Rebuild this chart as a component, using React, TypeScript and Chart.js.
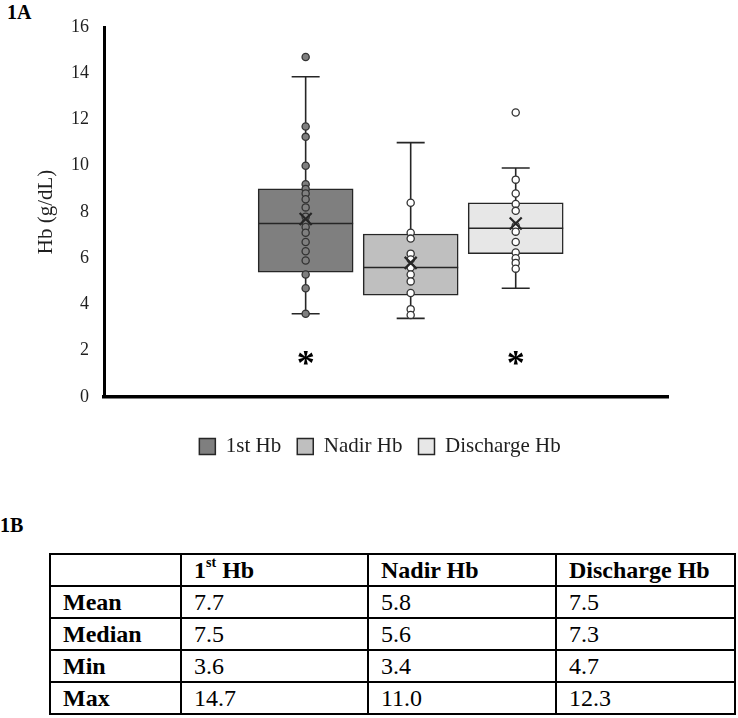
import React, { useEffect, useRef } from 'react';
import { Chart, registerables } from 'chart.js';

Chart.register(...registerables);

// ---------- data ----------
const categories = ['1st Hb', 'Nadir Hb', 'Discharge Hb'];
const q1 = [5.4, 4.4, 6.2];
const q3 = [9.0, 7.05, 8.4];
const medians = [7.5, 5.6, 7.3];
const means = [7.7, 5.8, 7.5];
const mins = [3.6, 3.4, 4.7];
const maxs = [14.7, 11.0, 12.3];
const whiskerLow = [3.6, 3.4, 4.7];
const whiskerHigh = [13.85, 11.0, 9.9];
const points1st = [14.7, 11.7, 11.25, 10.0, 9.2, 9.0, 8.8, 8.55, 8.2, 7.8, 7.55, 7.35, 7.1, 6.7, 6.3, 5.9, 5.3, 4.7, 3.6];
const pointsNadir = [8.4, 7.1, 6.85, 6.2, 5.95, 5.6, 5.3, 5.0, 4.5, 3.8, 3.55];
const pointsDischarge = [12.3, 9.4, 8.8, 8.35, 8.05, 7.4, 7.15, 6.7, 6.25, 6.0, 5.8, 5.55];
const pointSets = [points1st, pointsNadir, pointsDischarge];
const significance = ['*', '', '*'];
const asteriskLevel = 1.7;
const yMin = 0;
const yMax = 16;
const yStep = 2;
const tableRowLabels = ['Mean', 'Median', 'Min', 'Max'];
const tableRowValues = [means, medians, mins, maxs];

// ---------- styles ----------
const FONT = "'Liberation Serif', 'Times New Roman', serif";
const TEXT = '#1f1f1f';
const boxFills = ['#7f7f7f', '#bfbfbf', '#e7e7e7'];
const pointFills = ['#7f7f7f', '#ffffff', '#ffffff'];
const EDGE = '#262626';

const boxPlugin = {
  id: 'boxExtras',
  afterLayout(chart: any) {
    const lg = chart.legend;
    if (lg) {
      lg.left -= 6;
      lg.right -= 6;
    }
  },
  afterDatasetDraw(chart: any, args: any) {
    const ds = chart.data.datasets[args.index];
    if (ds.type !== 'bar') return;
    const i = ds.boxIndex;
    const el = args.meta.data[0];
    if (!el) return;
    const y = chart.scales.y;
    const ctx = chart.ctx;
    const x = el.x;
    const w = el.width;
    const cap = 14;
    ctx.save();
    ctx.strokeStyle = EDGE;
    ctx.lineWidth = 1.6;
    ctx.beginPath();
    ctx.moveTo(x - w / 2, y.getPixelForValue(medians[i]));
    ctx.lineTo(x + w / 2, y.getPixelForValue(medians[i]));
    ctx.moveTo(x, y.getPixelForValue(q3[i]));
    ctx.lineTo(x, y.getPixelForValue(whiskerHigh[i]));
    ctx.moveTo(x - cap, y.getPixelForValue(whiskerHigh[i]));
    ctx.lineTo(x + cap, y.getPixelForValue(whiskerHigh[i]));
    ctx.moveTo(x, y.getPixelForValue(q1[i]));
    ctx.lineTo(x, y.getPixelForValue(whiskerLow[i]));
    ctx.moveTo(x - cap, y.getPixelForValue(whiskerLow[i]));
    ctx.lineTo(x + cap, y.getPixelForValue(whiskerLow[i]));
    ctx.stroke();
    ctx.restore();
  },
  afterDatasetsDraw(chart: any) {
    const ctx = chart.ctx;
    const y = chart.scales.y;
    chart.data.datasets.forEach((ds: any, di: number) => {
      if (ds.type !== 'bar') return;
      const mark = significance[ds.boxIndex];
      if (!mark) return;
      const el = chart.getDatasetMeta(di).data[0];
      ctx.save();
      ctx.fillStyle = '#000';
      ctx.font = `bold 36px ${FONT}`;
      ctx.textAlign = 'center';
      ctx.textBaseline = 'alphabetic';
      ctx.fillText(mark, el.x, y.getPixelForValue(asteriskLevel) + 17);
      ctx.restore();
    });
  },
};

export default function App() {
  const ref = useRef<HTMLCanvasElement | null>(null);

  useEffect(() => {
    if (!ref.current) return;
    const boxDatasets = categories.map((label, i) => ({
      type: 'bar' as const,
      label,
      boxIndex: i,
      data: [{ x: i + 1, y: [q1[i], q3[i]] }],
      backgroundColor: boxFills[i],
      borderColor: EDGE,
      borderWidth: 1.5,
      borderSkipped: false,
      barThickness: 95,
      grouped: false,
      order: 3,
    }));
    const pointDatasets = pointSets.map((pts, i) => ({
      type: 'scatter' as const,
      label: categories[i] + ' points',
      data: pts.map((v) => ({ x: i + 1, y: v })),
      pointRadius: 3.6,
      pointBackgroundColor: pointFills[i],
      pointBorderColor: '#333333',
      pointBorderWidth: 1.3,
      showLine: false,
      order: 1,
    }));
    const meanDataset = {
      type: 'scatter' as const,
      label: 'Mean',
      data: means.map((v, i) => ({ x: i + 1, y: v })),
      pointStyle: 'crossRot',
      pointRadius: 8.5,
      pointBorderWidth: 2.2,
      pointBorderColor: '#262626',
      showLine: false,
      order: 0,
    };

    const chart = new Chart(ref.current, {
      type: 'bar',
      data: { datasets: [...boxDatasets, ...pointDatasets, meanDataset] as any },
      options: {
        animation: false,
        responsive: false,
        devicePixelRatio: 1,
        layout: { padding: { top: 27, right: 70, left: 0, bottom: 0 } },
        plugins: {
          tooltip: { enabled: false },
          legend: {
            position: 'bottom',
            fullSize: false,
            labels: {
              boxWidth: 16,
              boxHeight: 16,
              padding: 16,
              color: TEXT,
              font: { family: FONT, size: 21 },
              filter: (item: any, data: any) => data.datasets[item.datasetIndex].type === 'bar',
            },
          },
        },
        scales: {
          x: {
            type: 'linear',
            offset: false,
            min: -0.92,
            max: 4.45,
            grid: { display: false, drawTicks: false },
            border: { display: true, color: '#000', width: 3.5 },
            ticks: { display: false },
            afterFit: (s: any) => {
              s.height = 23;
            },
          },
          y: {
            min: yMin,
            max: yMax,
            grid: { display: false, drawTicks: false },
            border: { display: true, color: '#000', width: 3 },
            ticks: {
              stepSize: yStep,
              padding: 15,
              color: TEXT,
              font: { family: FONT, size: 18 },
            },
            title: {
              display: true,
              text: 'Hb (g/dL)',
              color: TEXT,
              font: { family: FONT, size: 21 },
              padding: { top: 34, bottom: 0 },
            },
            afterFit: (s: any) => {
              s.width = 104;
            },
          },
        },
      } as any,
      plugins: [boxPlugin],
    });
    return () => chart.destroy();
  }, []);

  const cell: React.CSSProperties = {
    border: '2px solid #000',
    padding: '0 0 0 12px',
    height: 30,
    textAlign: 'left',
    verticalAlign: 'middle',
    lineHeight: 1,
  };

  return (
    <div
      style={{
        position: 'absolute',
        left: 0,
        top: 0,
        width: 738,
        height: 718,
        background: '#fff',
        fontFamily: FONT,
        color: '#000',
        overflow: 'hidden',
      }}
    >
      <div style={{ position: 'absolute', left: 7, top: 1, fontWeight: 'bold', fontSize: 20, lineHeight: '22px' }}>1A</div>
      <canvas ref={ref} width={738} height={467} style={{ position: 'absolute', left: 0, top: 0, display: 'block' }} />
      <div style={{ position: 'absolute', left: 0, top: 514, fontWeight: 'bold', fontSize: 20, lineHeight: '22px' }}>1B</div>
      <table
        style={{
          position: 'absolute',
          left: 49,
          top: 553,
          width: 685,
          borderCollapse: 'collapse',
          fontSize: 24,
          fontFamily: FONT,
          tableLayout: 'fixed',
        }}
      >
        <colgroup>
          <col style={{ width: 131 }} />
          <col style={{ width: 187 }} />
          <col style={{ width: 188 }} />
          <col style={{ width: 179 }} />
        </colgroup>
        <tbody>
          <tr>
            <td style={cell}></td>
            {categories.map((c, i) => (
              <td key={i} style={{ ...cell, fontWeight: 'bold' }}>
                {i === 0 ? (
                  <>
                    1<sup style={{ fontSize: 14, verticalAlign: 'top', position: 'relative', top: -2 }}>st</sup> Hb
                  </>
                ) : (
                  c
                )}
              </td>
            ))}
          </tr>
          {tableRowLabels.map((r, ri) => (
            <tr key={r}>
              <td style={{ ...cell, fontWeight: 'bold' }}>{r}</td>
              {tableRowValues[ri].map((v, ci) => (
                <td key={ci} style={cell}>
                  {v.toFixed(1)}
                </td>
              ))}
            </tr>
          ))}
        </tbody>
      </table>
    </div>
  );
}
